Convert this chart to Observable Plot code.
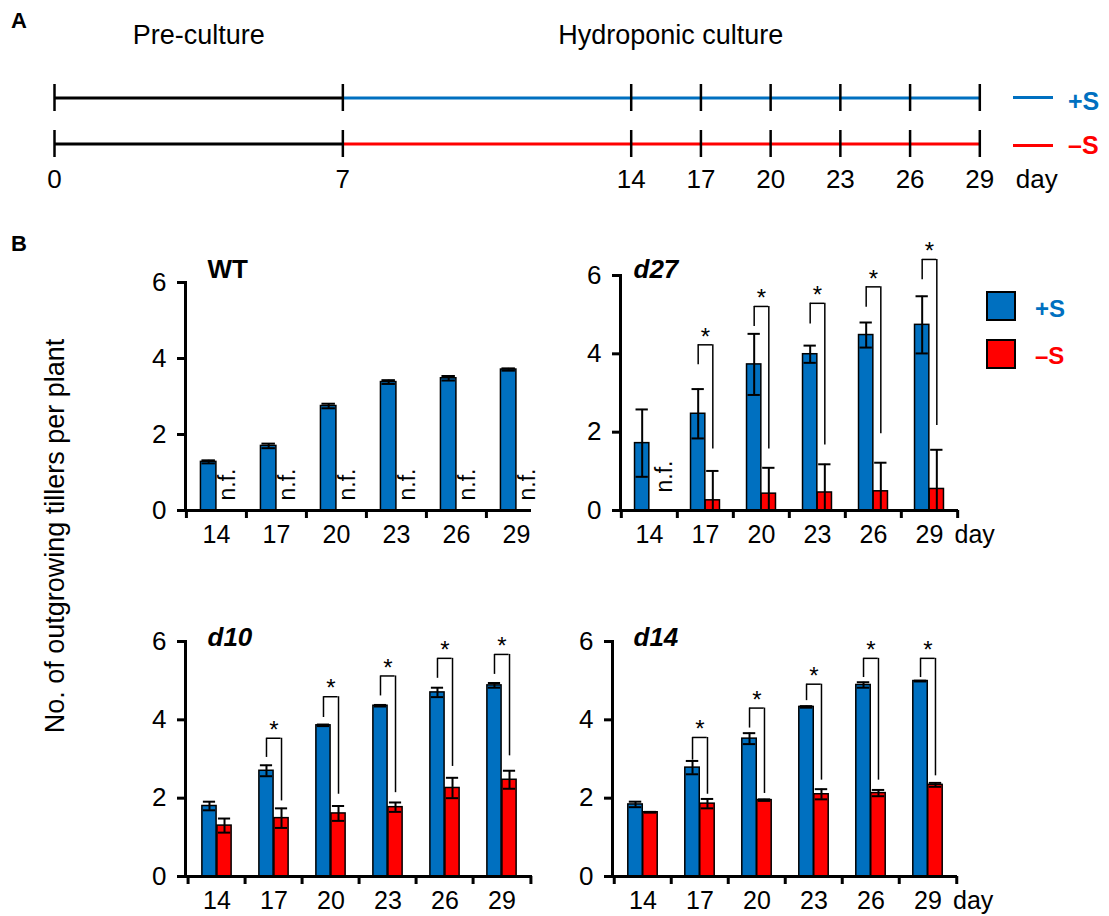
<!DOCTYPE html>
<html><head><meta charset="utf-8">
<script src="https://cdn.jsdelivr.net/npm/d3@7"></script>
<script src="https://cdn.jsdelivr.net/npm/@observablehq/plot@0.6"></script>
<style>
body{margin:0;background:#fff;}
#fig{position:relative;width:1109px;height:916px;font-family:"Liberation Sans",Arial,Helvetica,sans-serif;overflow:hidden;background:#fff;color:#000;}
.abs{position:absolute;white-space:nowrap;line-height:1;}
</style></head><body><div id="fig"></div>
<script>
// ---------------- DATA ----------------
// Panel A timeline
const timelineDays = [0, 7, 14, 17, 20, 23, 26, 29];
const treatments = ["+S", "–S"];
const phases = [{name: "pre", from: 0, to: 7}, {name: "hydro", from: 7, to: 29}];
const phaseLabels = [{label: "Pre-culture", day: 3.5}, {label: "Hydroponic culture", day: 15.7}];

// Panel B sampling days
const days = [14, 17, 20, 23, 26, 29];

// WT
const wtPlus     = [1.28, 1.70, 2.75, 3.38, 3.48, 3.71];
const wtPlusErr  = [0.04, 0.06, 0.06, 0.05, 0.06, 0.03];
const wtMinus    = [null, null, null, null, null, null];
const wtMinusErr = [null, null, null, null, null, null];
const wtNotFound = [14, 17, 20, 23, 26, 29];

// d27
const d27Plus     = [1.72, 2.47, 3.73, 3.99, 4.48, 4.74];
const d27PlusErr  = [0.86, 0.63, 0.78, 0.22, 0.32, 0.73];
const d27Minus    = [null, 0.26, 0.43, 0.46, 0.49, 0.55];
const d27MinusErr = [null, 0.75, 0.66, 0.72, 0.73, 1.00];
const d27NotFound = [14];
const d27BracketTop   = [null, 4.23, 5.21, 5.29, 5.71, 6.41];
const d27BracketLeft  = [null, 3.72, 4.70, 4.76, 5.19, 5.89];
const d27BracketRight = [null, 1.57, 1.57, 1.67, 1.96, 2.17];

// d10
const d10Plus     = [1.80, 2.70, 3.86, 4.36, 4.70, 4.88];
const d10PlusErr  = [0.11, 0.14, 0.02, 0.02, 0.12, 0.06];
const d10Minus    = [1.30, 1.49, 1.61, 1.77, 2.26, 2.47];
const d10MinusErr = [0.18, 0.25, 0.19, 0.12, 0.26, 0.23];
const d10BracketTop   = [null, 3.53, 4.59, 5.12, 5.57, 5.67];
const d10BracketLeft  = [null, 3.04, 4.06, 4.61, 5.06, 5.16];
const d10BracketRight = [null, 1.93, 2.10, 2.14, 2.81, 3.08];

// d14
const d14Plus     = [1.84, 2.78, 3.52, 4.33, 4.89, 4.99];
const d14PlusErr  = [0.07, 0.17, 0.14, 0.02, 0.07, 0.01];
const d14Minus    = [1.64, 1.86, 1.95, 2.10, 2.13, 2.34];
const d14MinusErr = [0.01, 0.12, 0.02, 0.13, 0.08, 0.05];
const d14BracketTop   = [null, 3.55, 4.30, 4.91, 5.57, 5.57];
const d14BracketLeft  = [null, 2.97, 3.79, 4.49, 5.08, 5.08];
const d14BracketRight = [null, 2.10, 2.12, 2.46, 2.46, 2.57];

const yTicks = [0, 2, 4, 6];

// ---------------- STYLE / LAYOUT ----------------
const BLUE = "#0070C0", RED = "#FF0000";
const FONT = '"Liberation Sans", Arial, Helvetica, sans-serif';
const fig = document.getElementById("fig");

function addHTML(html, css) {
  const d = document.createElement("div");
  d.className = "abs";
  d.innerHTML = html;
  Object.assign(d.style, css);
  fig.appendChild(d);
  return d;
}
function placeSVG(svg, left, top) {
  svg.style.position = "absolute";
  svg.style.left = left + "px";
  svg.style.top = top + "px";
  svg.style.maxWidth = "none";
  svg.style.overflow = "visible";
  svg.style.background = "transparent";
  fig.appendChild(svg);
}

// ---------------- PANEL A ----------------
const segs = treatments.flatMap(row => phases.map(p => ({row, ...p})));
const ticksA = treatments.flatMap(row => timelineDays.map(day => ({row, day})));

const plotA = Plot.plot({
  width: 1109, height: 200,
  marginTop: 24, marginBottom: 42.5, marginLeft: 0, marginRight: 0,
  style: {background: "transparent", fontFamily: FONT, overflow: "visible"},
  x: {type: "linear", domain: [0, 14, 29], range: [54, 630.7, 979.3]},
  y: {type: "band", domain: treatments, range: [84, 157.5], paddingInner: 0.42, paddingOuter: 0, axis: null},
  color: {type: "identity"},
  marks: [
    Plot.ruleY(segs, {y: "row", x1: "from", x2: "to", strokeWidth: 3,
      stroke: d => d.name === "pre" ? "black" : (d.row === "+S" ? BLUE : RED)}),
    Plot.tickX(ticksA, {x: "day", y: "row", stroke: "black", strokeWidth: 2.5}),
    Plot.axisX({ticks: timelineDays, tickSize: 0, tickPadding: 12, fontSize: 26, label: null, tickFormat: d => String(d)}),
    Plot.text([timelineDays[timelineDays.length - 1]], {x: d => d, text: () => "day", frameAnchor: "bottom",
      lineAnchor: "top", textAnchor: "start", dx: 36, dy: 12, fontSize: 26}),
    Plot.text(phaseLabels, {x: "day", text: "label", frameAnchor: "top", lineAnchor: "top", fontSize: 27})
  ]
});
placeSVG(plotA, 0, 0);

// Panel A legend
addHTML("A", {left: "11px", top: "10px", fontSize: "22px", fontWeight: "bold"});
addHTML("", {left: "1013px", top: "96px", width: "40px", height: "3px", background: BLUE});
addHTML("", {left: "1013px", top: "143.5px", width: "40px", height: "3px", background: RED});
addHTML("+S", {left: "1068px", top: "89px", fontSize: "25px", fontWeight: "bold", color: BLUE});
addHTML("–S", {left: "1068px", top: "133px", fontSize: "25px", fontWeight: "bold", color: RED});

// ---------------- PANEL B ----------------
addHTML("B", {left: "11px", top: "233px", fontSize: "22px", fontWeight: "bold"});
addHTML("No. of outgrowing tillers per plant", {left: "55px", top: "536px", fontSize: "27px",
  transform: "translate(-50%,-50%) rotate(-90deg)"});

function makeRows(plus, plusErr, minus, minusErr) {
  return days.map((day, i) => ({day, plus: plus[i], plusErr: plusErr[i], minus: minus[i], minusErr: minusErr[i]}));
}
function makeBrackets(top, left, right) {
  return days.map((day, i) => ({day, top: top[i], left: left[i], right: right[i]})).filter(d => d.top != null);
}

function barPanel(cfg) {
  const {L, R, Y0, Y6} = cfg.lay;
  const mL = 90, mR = 75, mT = 55, mB = 38;
  const left = L - mL, top = Y6 - mT;
  const width = R + mR - left, height = Y0 + mB - top;
  const bw = (R - L) / days.length;
  const bar = 0.26 * bw;
  const off = bar / 2;
  const cap = bar - 2;
  const capIn = (bw - cap) / 2;
  const rows = cfg.rows;
  const red = rows.filter(d => d.minus != null);
  const br = cfg.brackets || [];
  const lastDay = days[days.length - 1];

  const marks = [
    Plot.barY(rows, {x: "day", y1: 0, y2: "plus", fill: BLUE, stroke: "black", strokeWidth: 1.5,
      insetLeft: bw / 2 - bar, insetRight: bw / 2}),
    Plot.barY(red, {x: "day", y1: 0, y2: "minus", fill: RED, stroke: "black", strokeWidth: 1.5,
      insetLeft: bw / 2, insetRight: bw / 2 - bar}),
    // error bars (+S)
    Plot.ruleX(rows, {x: "day", y1: d => Math.max(0, d.plus - d.plusErr), y2: d => d.plus + d.plusErr, dx: -off, strokeWidth: 2}),
    Plot.tickY(rows, {x: "day", y: d => d.plus + d.plusErr, dx: -off, insetLeft: capIn, insetRight: capIn, strokeWidth: 2}),
    Plot.tickY(rows.filter(d => d.plus - d.plusErr > 0.02), {x: "day", y: d => d.plus - d.plusErr, dx: -off, insetLeft: capIn, insetRight: capIn, strokeWidth: 2}),
    // error bars (-S)
    Plot.ruleX(red, {x: "day", y1: d => Math.max(0, d.minus - d.minusErr), y2: d => d.minus + d.minusErr, dx: off, strokeWidth: 2}),
    Plot.tickY(red, {x: "day", y: d => d.minus + d.minusErr, dx: off, insetLeft: capIn, insetRight: capIn, strokeWidth: 2}),
    Plot.tickY(red.filter(d => d.minus - d.minusErr > 0.02), {x: "day", y: d => d.minus - d.minusErr, dx: off, insetLeft: capIn, insetRight: capIn, strokeWidth: 2}),
    // significance brackets
    Plot.tickY(br, {x: "day", y: "top", insetLeft: bw / 2 - off, insetRight: bw / 2 - off, strokeWidth: 1.5}),
    Plot.ruleX(br, {x: "day", y1: "left", y2: "top", dx: -off, strokeWidth: 1.5}),
    Plot.ruleX(br, {x: "day", y1: "right", y2: "top", dx: off, strokeWidth: 1.5}),
    Plot.text(br, {x: "day", y: "top", text: () => "*", dy: -8, fontSize: 24, lineAnchor: "middle"}),
    // n.f.
    Plot.text(cfg.notFound || [], {x: d => d, y: () => 0, text: () => "n.f.", rotate: -90, textAnchor: "start",
      lineAnchor: "middle", dx: cfg.lay.nfDx || 11, dy: cfg.lay.nfDy || -10, fontSize: 23}),
    // axes
    Plot.ruleY([0], {strokeWidth: 3, insetRight: cfg.lay.axisInsetRight || 0}),
    Plot.frame({anchor: "left", strokeWidth: 3}),
    Plot.ruleX(days, {x: d => d, y1: 0, y2: 0, insetBottom: -8, dx: -bw / 2, strokeWidth: 3}),
    Plot.axisY({ticks: yTicks, tickSize: 8, tickPadding: 11, fontSize: 26, strokeWidth: 3, label: null, tickFormat: d => String(d)}),
    Plot.axisX({tickSize: 0, tickPadding: 15, fontSize: 25, label: null, tickFormat: d => String(d)}),
    Plot.text([cfg.title], {text: d => d, frameAnchor: "top-left", textAnchor: "start", lineAnchor: "bottom",
      dx: cfg.lay.titleDx, dy: cfg.lay.titleDy, fontSize: 26, fontWeight: "bold", fontStyle: cfg.italic ? "italic" : "normal"})
  ];
  if (cfg.lay.endTick) marks.push(Plot.ruleX([lastDay], {x: d => d, y1: 0, y2: 0, insetBottom: -8, dx: bw / 2, strokeWidth: 3}));
  if (cfg.lay.dayLabel) marks.push(Plot.text([lastDay], {x: d => d, y: () => 0, text: () => "day", dx: 25, dy: 15,
    lineAnchor: "top", textAnchor: "start", fontSize: 25}));

  const svg = Plot.plot({
    width, height, marginLeft: mL, marginRight: mR, marginTop: mT, marginBottom: mB,
    style: {background: "transparent", fontFamily: FONT, overflow: "visible"},
    x: {type: "band", domain: days, padding: 0},
    y: {domain: [0, 6]},
    marks
  });
  placeSVG(svg, left, top);
}

barPanel({title: "WT", italic: false, rows: makeRows(wtPlus, wtPlusErr, wtMinus, wtMinusErr), notFound: wtNotFound,
  lay: {L: 185, R: 546, Y0: 510, Y6: 282, titleDx: 22, titleDy: -5, axisInsetRight: 15, endTick: false, nfDx: 11, nfDy: -10}});
barPanel({title: "d27", italic: true, rows: makeRows(d27Plus, d27PlusErr, d27Minus, d27MinusErr), notFound: d27NotFound,
  brackets: makeBrackets(d27BracketTop, d27BracketLeft, d27BracketRight),
  lay: {L: 620, R: 958, Y0: 510, Y6: 275, titleDx: 13, titleDy: 2, endTick: true, dayLabel: true, nfDx: 15, nfDy: -18}});
barPanel({title: "d10", italic: true, rows: makeRows(d10Plus, d10PlusErr, d10Minus, d10MinusErr),
  brackets: makeBrackets(d10BracketTop, d10BracketLeft, d10BracketRight),
  lay: {L: 185, R: 532, Y0: 876, Y6: 641, titleDx: 22, titleDy: 4.5, endTick: true}});
barPanel({title: "d14", italic: true, rows: makeRows(d14Plus, d14PlusErr, d14Minus, d14MinusErr),
  brackets: makeBrackets(d14BracketTop, d14BracketLeft, d14BracketRight),
  lay: {L: 612, R: 957, Y0: 876, Y6: 641, titleDx: 21, titleDy: 4.5, endTick: true, dayLabel: true}});

// Panel B legend
addHTML("", {left: "986px", top: "291px", width: "26px", height: "26px", background: BLUE, border: "2.5px solid #000"});
addHTML("", {left: "986px", top: "339px", width: "26px", height: "26px", background: RED, border: "2.5px solid #000"});
addHTML("+S", {left: "1035px", top: "297px", fontSize: "24px", fontWeight: "bold", color: BLUE});
addHTML("–S", {left: "1035px", top: "344px", fontSize: "24px", fontWeight: "bold", color: RED});
</script></body></html>
